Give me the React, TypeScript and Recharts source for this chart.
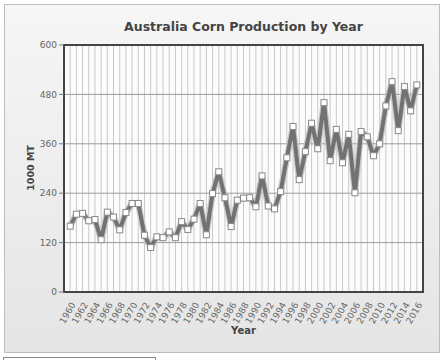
import { LineChart, Line, XAxis, YAxis, CartesianGrid, ReferenceArea } from 'recharts'

const years = [
  1960, 1961, 1962, 1963, 1964, 1965, 1966, 1967, 1968, 1969,
  1970, 1971, 1972, 1973, 1974, 1975, 1976, 1977, 1978, 1979,
  1980, 1981, 1982, 1983, 1984, 1985, 1986, 1987, 1988, 1989,
  1990, 1991, 1992, 1993, 1994, 1995, 1996, 1997, 1998, 1999,
  2000, 2001, 2002, 2003, 2004, 2005, 2006, 2007, 2008, 2009,
  2010, 2011, 2012, 2013, 2014, 2015, 2016,
]

// 1000 MT
const production = [
  160, 189, 191, 173, 176, 127, 194, 182, 151, 193,
  215, 215, 138, 108, 134, 132, 146, 132, 171, 152,
  177, 215, 139, 239, 292, 229, 159, 223, 228, 229,
  207, 282, 209, 202, 244, 326, 402, 273, 341, 410,
  348, 460, 319, 395, 314, 383, 241, 390, 377, 331,
  360, 452, 511, 392, 499, 440, 503,
]

const yTicks = [0, 120, 240, 360, 480, 600]
const gridYears = [1959, ...years, 2017]

const data = years.map((year, i) => ({ year, value: production[i] }))

const font = '"DejaVu Sans", Verdana, sans-serif'

const YearTick = ({ x, y, payload }: any) => {
  const v = payload.value
  if (v < 1960 || v > 2016 || v % 2 !== 0) return null
  return (
    <g transform={`translate(${x + 3},${y + 3})`}>
      <text
        x={0} y={0} dy="0.35em" textAnchor="end" transform="rotate(-60)"
        fill="#666" fontSize={9} fontFamily={font}
      >
        {v}
      </text>
    </g>
  )
}

const SquareDot = ({ cx, cy, index }: any) => (
  <rect key={index} x={cx - 3} y={cy - 3} width={6} height={6} fill="#fff" stroke="#8a8a8a" strokeWidth={1} />
)

export default function App() {
  return (
    <div style={{ position: 'absolute', left: 0, top: 0, width: 444, height: 360, background: '#fff', fontFamily: font }}>
      <div
        style={{
          position: 'absolute', left: 4, top: 4, width: 434, height: 347,
          border: '1px solid #bdbdbd',
          background: 'linear-gradient(#f6f6f6, #e5e5e5)',
        }}
      />
      <div
        style={{
          position: 'absolute', left: 3, top: 357, width: 151, height: 10,
          border: '1px solid #888', background: '#fff',
        }}
      />
      <div
        style={{
          position: 'absolute', left: 64, width: 359, top: 19, textAlign: 'center',
          fontSize: 12.5, fontWeight: 'bold', color: '#444',
        }}
      >
        Australia Corn Production by Year
      </div>
      <div
        style={{
          position: 'absolute', left: 30, top: 168, width: 0, height: 0,
        }}
      >
        <div
          style={{
            position: 'absolute', transform: 'translate(-50%, -50%) rotate(-90deg)',
            whiteSpace: 'nowrap', fontSize: 9.5, fontWeight: 'bold', color: '#444',
          }}
        >
          1000 MT
        </div>
      </div>
      <div
        style={{
          position: 'absolute', left: 64, width: 359, top: 325, textAlign: 'center',
          fontSize: 10, fontWeight: 'bold', color: '#444',
        }}
      >
        Year
      </div>
      <div style={{ position: 'absolute', left: 0, top: 0 }}>
        <LineChart width={444} height={360} data={data} margin={{ top: 45, right: 21, bottom: 0, left: 0 }}>
          <CartesianGrid
            fill="#fcfcfc" stroke="#c9c9c9" horizontal={false} vertical={true}
          />
          <CartesianGrid stroke="#9a9a9a" horizontal={true} vertical={false} />
          <XAxis
            dataKey="year" type="number" domain={[1959, 2017]} ticks={gridYears} interval={0}
            height={68} tick={<YearTick />} tickLine={false}
            axisLine={{ stroke: '#444', strokeWidth: 2 }}
          />
          <YAxis
            domain={[0, 600]} ticks={yTicks} width={64} interval={0}
            tick={{ fill: '#666', fontSize: 9, fontFamily: font }}
            tickLine={{ stroke: '#777' }} tickSize={5}
            axisLine={{ stroke: '#444', strokeWidth: 2 }}
          />
          <ReferenceArea x1={1959} x2={2017} y1={0} y2={600} fill="none" stroke="#444" strokeWidth={2} fillOpacity={0} />
          <Line
            dataKey="value" type="linear" stroke="#c8c8c8" strokeWidth={6.5} strokeLinejoin="round"
            dot={false} activeDot={false} isAnimationActive={false}
          />
          <Line
            dataKey="value" type="linear" stroke="#727272" strokeWidth={4} strokeLinejoin="round"
            dot={<SquareDot />} activeDot={false} isAnimationActive={false}
          />
        </LineChart>
      </div>
    </div>
  )
}
